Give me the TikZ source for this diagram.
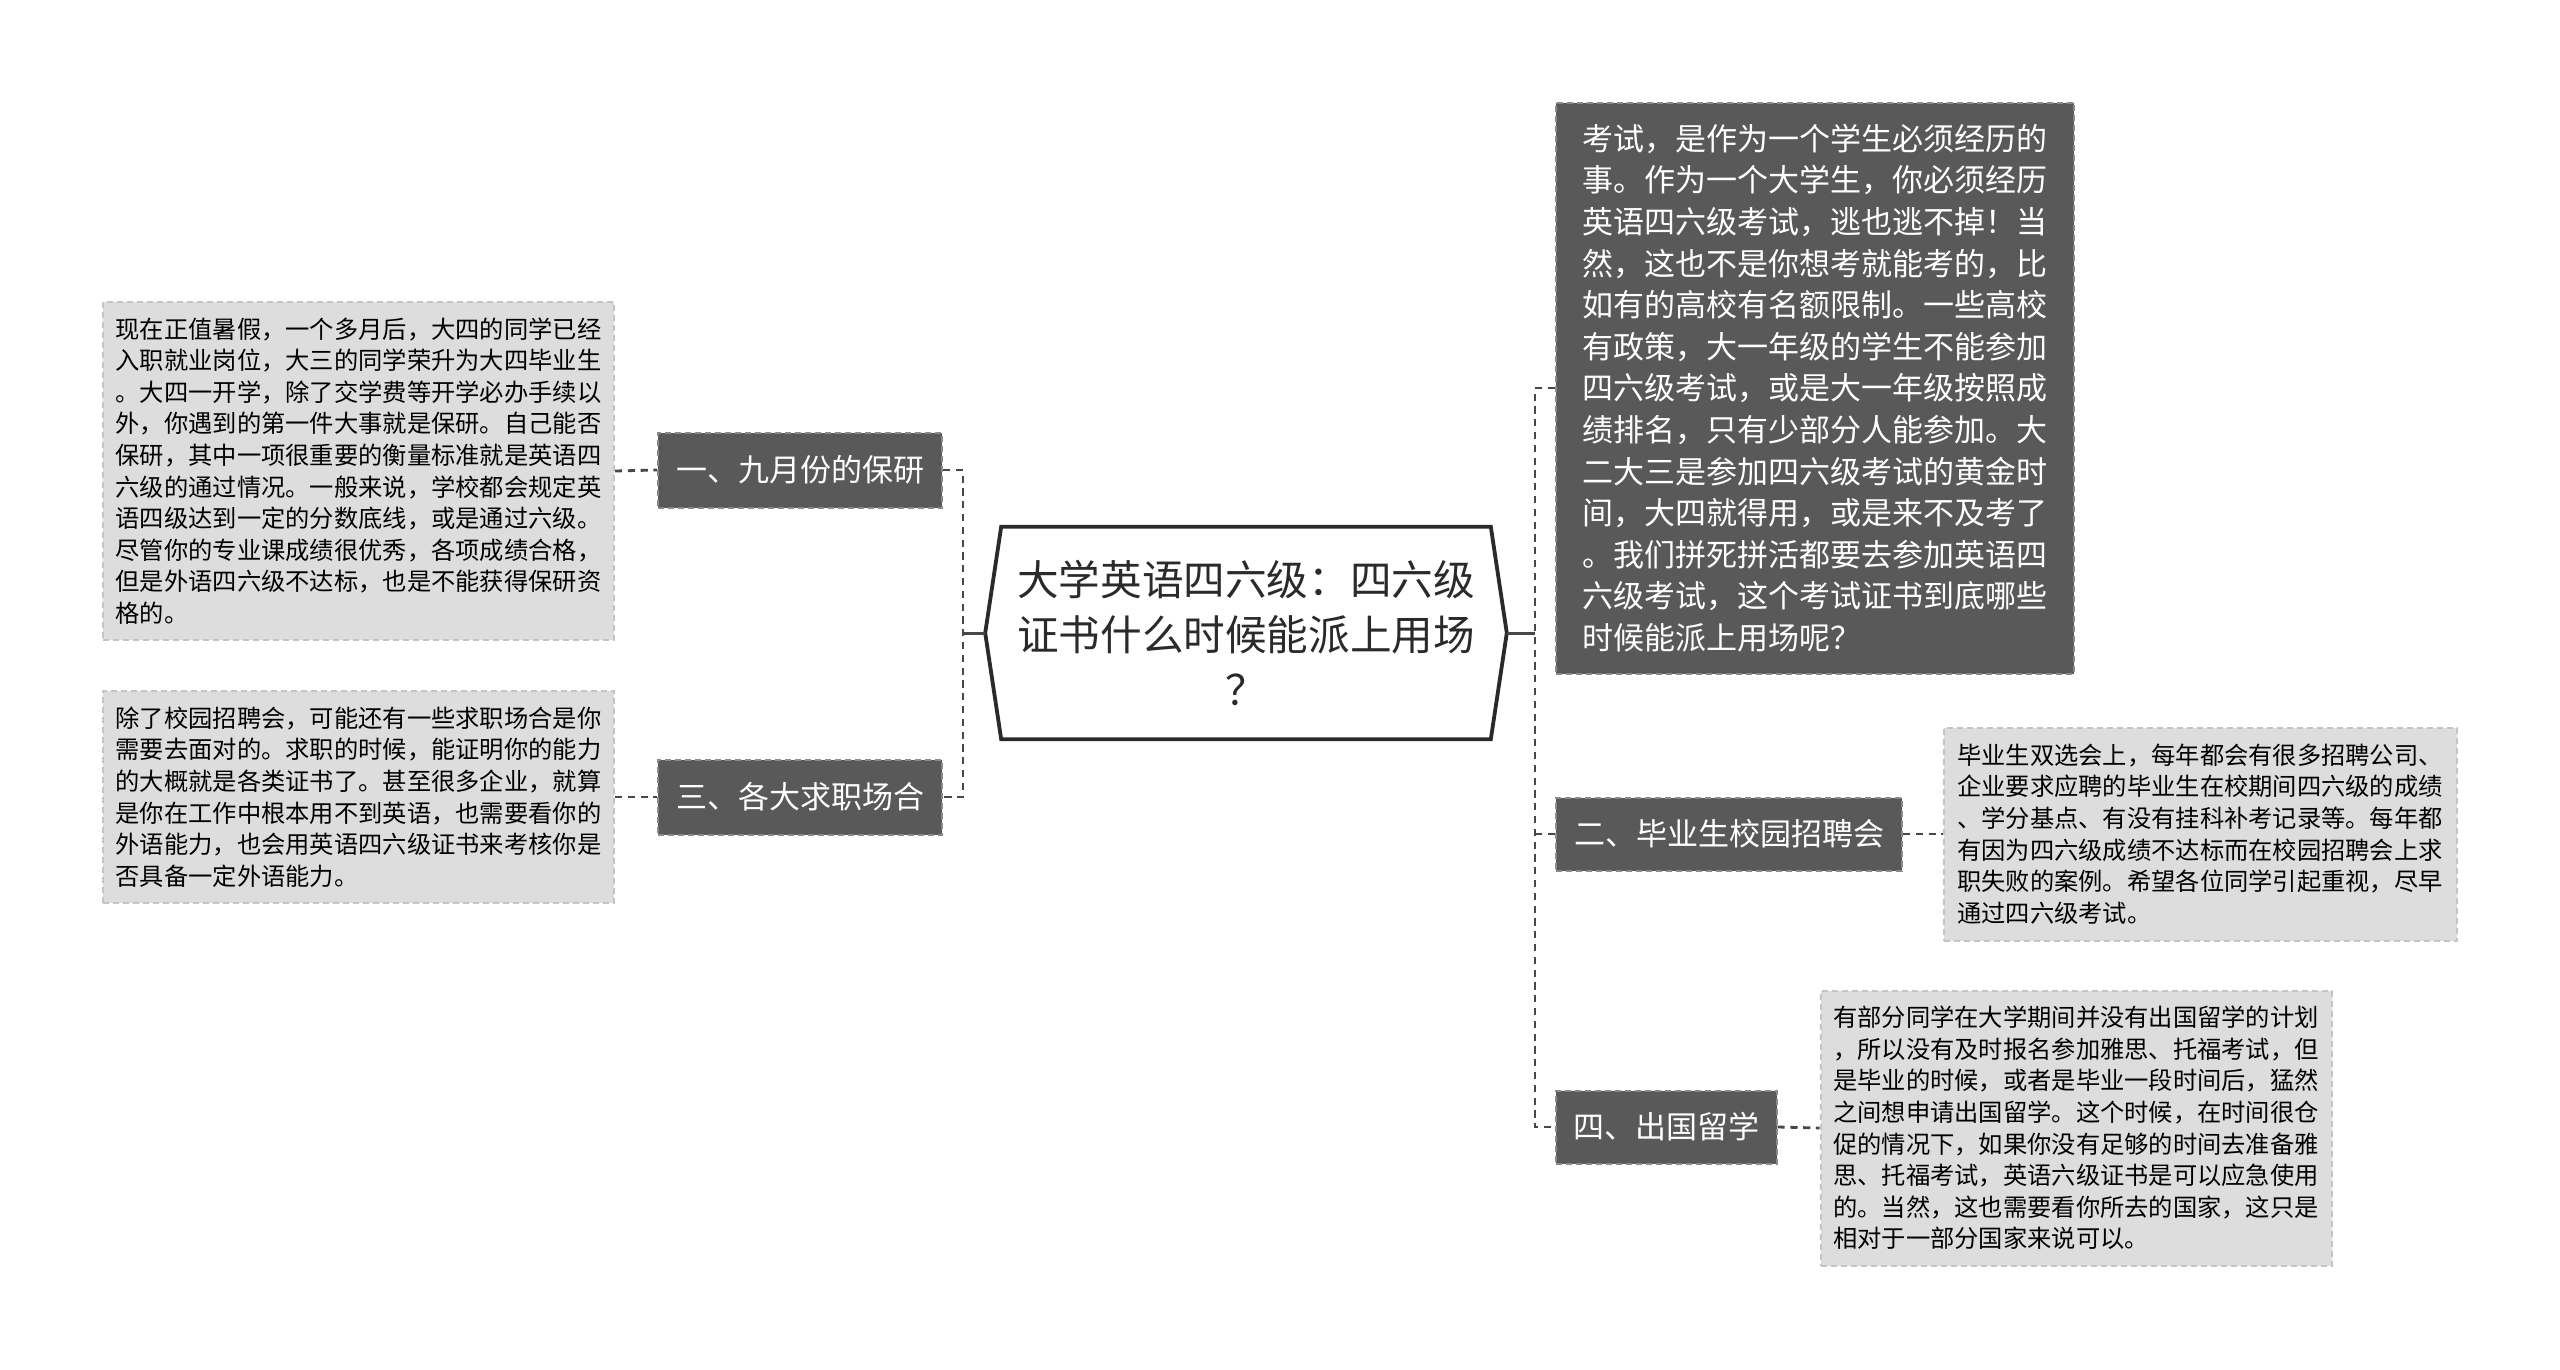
\documentclass[tikz,border=0pt]{standalone}
\usepackage{fontspec}
\newfontfamily\cjk{Noto Sans CJK SC}
\definecolor{darkfill}{HTML}{595959}
\definecolor{darkedge}{HTML}{8A8A8A}
\definecolor{lightfill}{HTML}{DDDDDD}
\definecolor{lightedge}{HTML}{C4C4C4}
\definecolor{linkcol}{HTML}{474747}
\definecolor{titlecol}{HTML}{2A2A2A}
\tikzset{
  branch/.style={rectangle, fill=darkfill, draw=darkedge, dashed, line width=0.5pt,
    dash pattern=on 1.5pt off 1pt, inner sep=0pt, text=white,
    font=\cjk\fontsize{7.75pt}{9.5pt}\selectfont},
  detail/.style={rectangle, fill=lightfill, draw=lightedge, line width=0.5pt,
    dash pattern=on 1.5pt off 1pt, inner sep=0pt, text=black, align=left,
    font=\cjk\fontsize{6.07pt}{7.9pt}\selectfont},
  bigdetail/.style={rectangle, fill=darkfill, draw=darkedge, line width=0.5pt,
    dash pattern=on 1.5pt off 1pt, inner sep=0pt, text=white, align=left,
    font=\cjk\fontsize{7.75pt}{10.4pt}\selectfont},
  link/.style={draw=linkcol, line width=0.7pt, dash pattern=on 1.8pt off 1.4pt},
  stem/.style={draw=linkcol, line width=0.75pt},
  hexline/.style={draw=titlecol, line width=0.95pt, line join=miter}
}
\begin{document}
\begin{tikzpicture}[x=0.25pt, y=-0.25pt]
\useasboundingbox[fill=white] (0,0) rectangle (2560,1370);

% central topic
\node[inner sep=0pt, minimum width=130pt, minimum height=52.75pt, align=center,
  text=titlecol, font=\cjk\fontsize{10.4pt}{13.7pt}\selectfont] (c) at (1246,633)
  {大学英语四六级：四六级\\证书什么时候能派上用场\\？};
\draw[hexline] ([xshift=4pt]c.north west) -- ([xshift=-4pt]c.north east) -- (c.east)
  -- ([xshift=-4pt]c.south east) -- ([xshift=4pt]c.south west) -- (c.west) -- cycle;

% left branches
\node[branch, minimum width=71pt, minimum height=18.75pt] (n1) at (800,470) {一、九月份的保研};
\node[branch, minimum width=71pt, minimum height=18.75pt] (n3) at (800,797) {三、各大求职场合};

\node[detail, minimum width=127.75pt, minimum height=84.5pt] (d1) at (358.5,471)
{现在正值暑假，一个多月后，大四的同学已经\\
入职就业岗位，大三的同学荣升为大四毕业生\\
。大四一开学，除了交学费等开学必办手续以\\
外，你遇到的第一件大事就是保研。自己能否\\
保研，其中一项很重要的衡量标准就是英语四\\
六级的通过情况。一般来说，学校都会规定英\\
语四级达到一定的分数底线，或是通过六级。\\
尽管你的专业课成绩很优秀，各项成绩合格，\\
但是外语四六级不达标，也是不能获得保研资\\
格的。};

\node[detail, minimum width=127.75pt, minimum height=53pt] (d3) at (358.5,797)
{除了校园招聘会，可能还有一些求职场合是你\\
需要去面对的。求职的时候，能证明你的能力\\
的大概就是各类证书了。甚至很多企业，就算\\
是你在工作中根本用不到英语，也需要看你的\\
外语能力，也会用英语四六级证书来考核你是\\
否具备一定外语能力。};

% right branches
\node[bigdetail, minimum width=129.5pt, minimum height=142.75pt] (t0) at (1815,388)
{考试，是作为一个学生必须经历的\\
事。作为一个大学生，你必须经历\\
英语四六级考试，逃也逃不掉！当\\
然，这也不是你想考就能考的，比\\
如有的高校有名额限制。一些高校\\
有政策，大一年级的学生不能参加\\
四六级考试，或是大一年级按照成\\
绩排名，只有少部分人能参加。大\\
二大三是参加四六级考试的黄金时\\
间，大四就得用，或是来不及考了\\
。我们拼死拼活都要去参加英语四\\
六级考试，这个考试证书到底哪些\\
时候能派上用场呢？};

\node[branch, minimum width=86.5pt, minimum height=18.25pt] (n2) at (1729,834) {二、毕业生校园招聘会};
\node[branch, minimum width=55.25pt, minimum height=18.25pt] (n4) at (1666,1127) {四、出国留学};

\node[detail, minimum width=128.25pt, minimum height=53.25pt] (d2) at (2200,834)
{毕业生双选会上，每年都会有很多招聘公司、\\
企业要求应聘的毕业生在校期间四六级的成绩\\
、学分基点、有没有挂科补考记录等。每年都\\
有因为四六级成绩不达标而在校园招聘会上求\\
职失败的案例。希望各位同学引起重视，尽早\\
通过四六级考试。};

\node[detail, minimum width=127.75pt, minimum height=68.75pt] (d4) at (2076,1128)
{有部分同学在大学期间并没有出国留学的计划\\
，所以没有及时报名参加雅思、托福考试，但\\
是毕业的时候，或者是毕业一段时间后，猛然\\
之间想申请出国留学。这个时候，在时间很仓\\
促的情况下，如果你没有足够的时间去准备雅\\
思、托福考试，英语六级证书是可以应急使用\\
的。当然，这也需要看你所去的国家，这只是\\
相对于一部分国家来说可以。};

% junction coordinates
\coordinate (lj) at (963,633);
\coordinate (rj) at (1535,633);
\coordinate (l1) at (963,470);
\coordinate (l3) at (963,797);
\coordinate (r0) at (1535,388);
\coordinate (r2) at (1535,834);
\coordinate (r4) at (1535,1127);

% stems from central topic
\draw[stem] (c.west) -- (lj);
\draw[stem] (c.east) -- (rj);

% left tree
\draw[link] (n1.east) -- (l1) -- (l3) -- (n3.east);
% right tree
\draw[link] (t0.west) -- (r0) -- (r4) -- (n4.west);
\draw[link] (r2) -- (n2.west);

% detail links
\draw[link] (d1.east) -- (n1.west);
\draw[link] (d3.east) -- (n3.west);
\draw[link] (n2.east) -- (d2.west);
\draw[link] (n4.east) -- (d4.west);
\end{tikzpicture}
\end{document}
